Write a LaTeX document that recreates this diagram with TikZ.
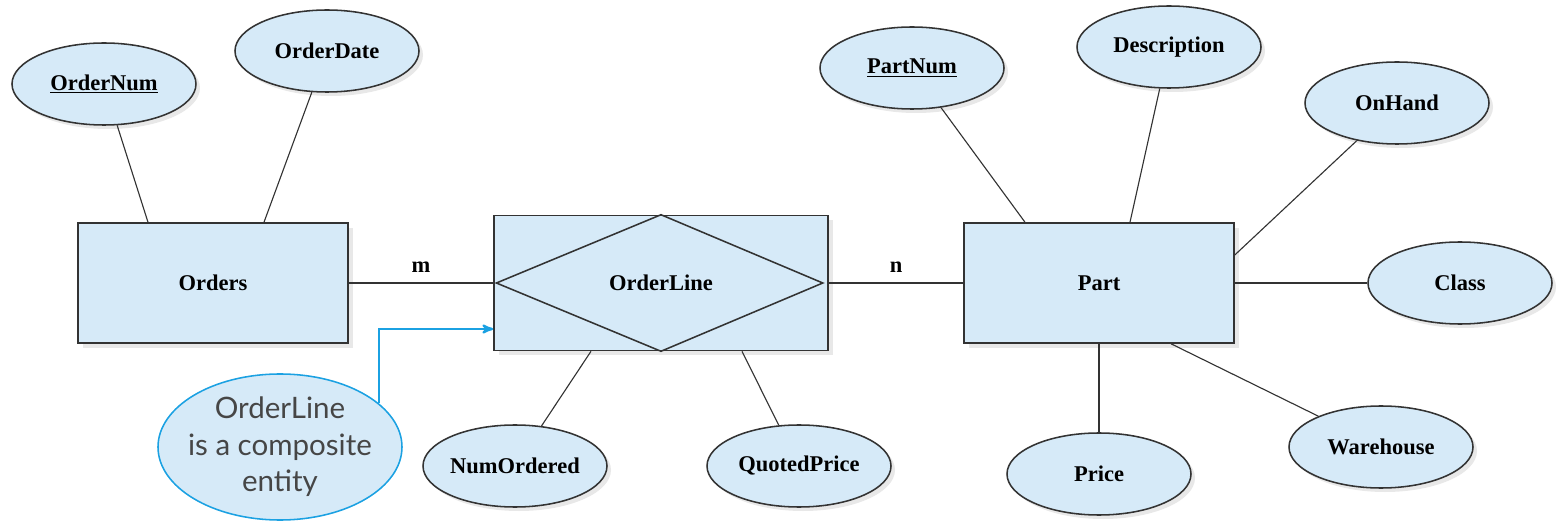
\documentclass[tikz,border=0pt]{standalone}
\usepackage{fontspec}
\setmainfont{Liberation Serif}
\newfontfamily\notefont{Lato}
\usepackage{tikz}
\usetikzlibrary{arrows,shapes.geometric,shadows}
\usetikzlibrary{positioning}
\definecolor{erfill}{RGB}{214,234,248}
\definecolor{noteblue}{RGB}{27,161,226}
\definecolor{notetext}{RGB}{70,70,70}
\tikzset{
    entity/.style={
           rectangle,
           draw=black!80, line width=1.1pt,
           fill=erfill,
           minimum width=6.75cm,
           minimum height=3cm,
           font=\fontsize{16}{19}\selectfont\bfseries,
           drop shadow={opacity=0.18,shadow xshift=0.12cm,shadow yshift=-0.12cm},
           },
    attrib/.style={
           ellipse,
           draw=black!80, line width=1.1pt,
           fill=erfill,
           minimum width=4.6cm,
           minimum height=2.05cm,
           inner sep=0pt,
           font=\fontsize{16}{19}\selectfont\bfseries,
           drop shadow={opacity=0.18,shadow xshift=0.1cm,shadow yshift=-0.1cm},
           },
    note/.style={
           ellipse,
           draw=noteblue, line width=1.1pt,
           fill=erfill,
           minimum width=6.1cm,
           minimum height=3.65cm,
           inner xsep=-0.35cm,
           inner ysep=0pt,
           align=center,
           text=notetext,
           font=\notefont\fontsize{21}{26}\selectfont,
           },
    link/.style={draw=black!80, thick},
    lbl/.style={font=\fontsize{16}{19}\selectfont\bfseries},
}

\begin{document}
\begin{tikzpicture}[>=stealth']

    \useasboundingbox (-5.325,-6.0) rectangle (33.575,7.075);

    % entities
    \node[entity] (O) {Orders};
    \node[entity,minimum width=8.35cm,minimum height=3.375cm,right of=O,node distance=11.2cm]
        (OL) {OrderLine};
    \node[entity,right of=OL,node distance=10.95cm]
        (P) {Part};

    % attributes
    \node[attrib,above of=O,node distance=4.975cm,xshift=-2.725cm]
        (ON) {\underline{OrderNum}};
    \node[attrib,above of=O,node distance=5.8cm,xshift=2.85cm]
        (OD) {OrderDate};
    \node[attrib,below of=OL,node distance=4.575cm,xshift=-3.65cm]
        (NO) {NumOrdered};
    \node[attrib,below of=OL,node distance=4.575cm,xshift=3.45cm]
        (QP) {QuotedPrice};
    \node[attrib,above of=P,node distance=5.375cm,xshift=-4.675cm]
        (PN) {\underline{PartNum}};
    \node[attrib,above of=P,node distance=5.9cm,xshift=1.75cm]
        (DE) {Description};
    \node[attrib,above of=P,node distance=4.5cm,xshift=7.45cm]
        (OH) {OnHand};
    \node[attrib,right of=P,node distance=9.025cm]
        (CL) {Class};
    \node[attrib,below of=P,node distance=4.1cm,xshift=7.05cm]
        (WH) {Warehouse};
    \node[attrib,below of=P,node distance=4.775cm]
        (PR) {Price};

    % note
    \node[note,below of=O,node distance=4.1cm,xshift=1.675cm]
        (CO) {OrderLine\\is a composite\\entity};

    % composite diamond
    \draw[line width=1.1pt,black!80] ([xshift=0.08cm]OL.west) -- (OL.north)
        -- ([xshift=-0.15cm]OL.east) -- (OL.south) -- cycle;

    % relationships
    \draw[link] (O) -- node[lbl,above=4pt]{m} (OL);
    \draw[link] (OL) -- node[lbl,above=4pt]{n} (P);

    \draw[link] (ON) -- ([xshift=-1.625cm]O.north);
    \draw[link] (OD) -- ([xshift=1.275cm]O.north);
    \draw[link] ([xshift=-1.75cm]OL.south) -- (NO);
    \draw[link] ([xshift=2.025cm]OL.south) -- (QP);
    \draw[link] (PN) -- ([xshift=-1.85cm]P.north);
    \draw[link] (DE) -- ([xshift=0.775cm]P.north);
    \draw[link] (OH) -- ([yshift=0.7cm]P.east);
    \draw[link] (P.east) -- (CL);
    \draw[link] ([xshift=1.8cm]P.south) -- (WH);
    \draw[link] (P.south) -- (PR);

    \draw[->,draw=noteblue,line width=1.6pt] (CO.24) |- ([yshift=-1.15cm]OL.west);

\end{tikzpicture}
\end{document}
